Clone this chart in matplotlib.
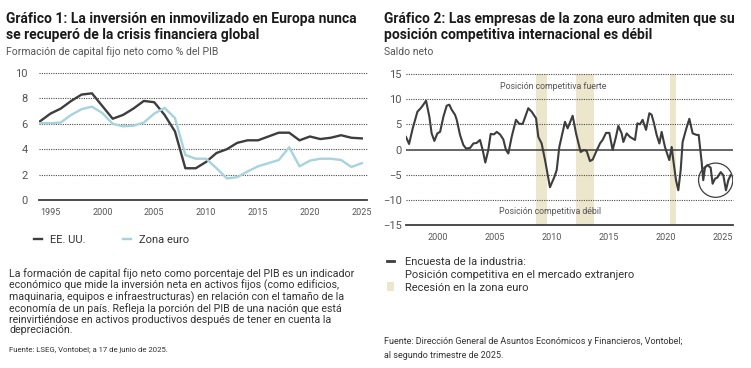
import matplotlib.pyplot as plt
from matplotlib.lines import Line2D
from matplotlib.patches import Patch, Ellipse

plt.rcParams['font.family'] = ['Roboto', 'DejaVu Sans']

# --- Chart 1 data: net fixed capital formation, % of GDP ---
years_1 = list(range(1994, 2026))
us_vals = [6.2, 6.8, 7.2, 7.8, 8.3, 8.4, 7.4, 6.4, 6.7, 7.2, 7.8, 7.7, 6.7, 5.4,
           2.5, 2.5, 3.0, 3.7, 4.0, 4.5, 4.7, 4.7, 5.0, 5.3, 5.3, 4.7, 5.0, 4.8,
           4.9, 5.1, 4.9, 4.85]
ez_vals = [6.05, 6.05, 6.1, 6.7, 7.15, 7.35, 6.85, 6.0, 5.8, 5.85, 6.1, 6.8, 7.25,
           6.45, 3.55, 3.25, 3.25, 2.5, 1.7, 1.8, 2.25, 2.65, 2.9, 3.15, 4.15,
           2.65, 3.1, 3.25, 3.25, 3.15, 2.6, 2.9]

# --- Chart 2 data: industry survey, competitive position abroad (net balance) ---
dates_2 = [1997.19, 1997.46, 1997.78, 1998.19, 1998.48, 1998.71, 1998.95, 1999.24,
           1999.44, 1999.68, 1999.94, 2000.18, 2000.47, 2000.76, 2000.99, 2001.20,
           2001.49, 2001.64, 2001.93, 2002.22, 2002.46, 2002.81, 2003.10, 2003.39,
           2003.68, 2003.92, 2004.15, 2004.41, 2004.62, 2004.91, 2005.15, 2005.44,
           2005.73, 2005.96, 2006.17, 2006.46, 2006.84, 2007.13, 2007.43, 2007.92,
           2008.22, 2008.60, 2008.80, 2009.09, 2009.39, 2009.82, 2010.20, 2010.41,
           2010.64, 2011.14, 2011.37, 2011.81, 2012.11, 2012.51, 2012.81, 2013.04,
           2013.33, 2013.57, 2013.86, 2014.21, 2014.44, 2014.74, 2015.03, 2015.32,
           2015.61, 2015.82, 2016.11, 2016.26, 2016.55, 2016.84, 2017.28, 2017.49,
           2017.72, 2017.95, 2018.25, 2018.54, 2018.74, 2018.95, 2019.18, 2019.42,
           2019.62, 2019.91, 2020.29, 2020.50, 2020.64, 2020.88, 2021.08, 2021.29,
           2021.46, 2021.75, 2022.05, 2022.34, 2022.69, 2022.87, 2023.13, 2023.27,
           2023.42, 2023.63, 2023.92, 2024.09, 2024.30, 2024.50, 2024.80, 2025.03,
           2025.26, 2025.47, 2025.67]
survey_vals = [2.5, 1.1, 4.2, 7.5, 8.2, 8.9, 9.7, 6.5, 3.2, 1.7, 3.2, 3.5, 6.5, 8.7,
               8.9, 7.9, 6.9, 5.9, 2.9, 0.9, 0.2, 0.3, 1.2, 1.3, 1.9, -0.1, -2.6,
               -0.1, 3.1, 3.0, 3.5, 3.0, 2.0, -0.1, -0.8, 2.5, 5.9, 5.1, 5.1, 8.2,
               7.5, 6.2, 2.5, 1.2, -2.1, -7.5, -5.5, -4.1, 0.5, 5.5, 4.2, 6.7, 3.2,
               -0.5, -0.1, -0.3, -2.3, -2.0, -0.5, 1.2, 1.9, 3.3, 3.3, -0.1, 2.5, 4.7,
               3.2, 1.5, 3.2, 2.5, 1.9, 5.2, 5.0, 5.9, 3.9, 7.2, 6.9, 5.2, 2.9, 1.2,
               3.5, 0.5, -2.1, 0.5, -2.1, -6.1, -8.1, -4.1, 1.5, 3.9, 6.1, 3.2, 2.9,
               2.9, -2.5, -6.1, -3.6, -3.1, -3.6, -6.8, -5.8, -5.6, -4.5, -5.1, -8.1,
               -6.1, -5.1]
recessions = [(2008.6, 2009.6), (2012.1, 2013.7), (2020.35, 2020.85)]

DARK = '#3d3d3d'
BLUE = '#a6d3dc'
BEIGE = '#ece6cc'
GRID = '#4d4d4d'
TXT = '#1a1a1a'
SUB = '#555555'

fig = plt.figure(figsize=(7.51, 3.68), dpi=100)

# ---------------- Chart 1 ----------------
ax1 = fig.add_axes([39 / 751, 1 - 200 / 368, 328 / 751, 127 / 368])
ax1.plot(years_1, us_vals, color=DARK, lw=1.7, label='EE. UU.', zorder=3)
ax1.plot(years_1, ez_vals, color=BLUE, lw=1.7, label='Zona euro', zorder=3)
ax1.set_xlim(1993.9, 2025.5)
ax1.set_ylim(0, 10)
ax1.set_yticks([0, 2, 4, 6, 8, 10])
ax1.set_xticks([1995, 2000, 2005, 2010, 2015, 2020, 2025])
for v in [2, 4, 6, 8, 10]:
    ax1.axhline(v, color=GRID, lw=0.8, ls=(0, (1, 1.1)), zorder=1, clip_on=False)
ax1.axhline(0, color=DARK, lw=1.3, zorder=2, clip_on=False)
for s in ax1.spines.values():
    s.set_visible(False)
ax1.tick_params(axis='y', length=0, labelsize=8, labelcolor=SUB, pad=8)
ax1.tick_params(axis='x', length=0, labelsize=6.5, labelcolor=SUB, pad=6)
ax1.legend(loc='lower left', bbox_to_anchor=(-0.045, -0.43), ncol=2, frameon=False,
           handlelength=0.7, handletextpad=0.7, columnspacing=3.4, fontsize=8,
           labelcolor='#333333')

fig.text(6 / 751, 1 - 19 / 368, 'Gráfico 1: La inversión en inmovilizado en Europa nunca',
         fontsize=10, fontweight='bold', color=TXT, va='center')
fig.text(6 / 751, 1 - 35 / 368, 'se recuperó de la crisis financiera global',
         fontsize=10, fontweight='bold', color=TXT, va='center')
fig.text(6 / 751, 1 - 52 / 368, 'Formación de capital fijo neto como % del PIB',
         fontsize=7.5, color=SUB, va='center')

paragraph = ('La formación de capital fijo neto como porcentaje del PIB es un indicador\n'
             'económico que mide la inversión neta en activos fijos (como edificios,\n'
             'maquinaria, equipos e infraestructuras) en relación con el tamaño de la\n'
             'economía de un país. Refleja la porción del PIB de una nación que está\n'
             'reinvirtiéndose en activos productivos después de tener en cuenta la\n'
             'depreciación.')
fig.text(9 / 751, 1 - 268 / 368, paragraph, fontsize=7.7, color='#333333', va='top',
         linespacing=1.06)
fig.text(9 / 751, 1 - 350 / 368, 'Fuente: LSEG, Vontobel; a 17 de junio de 2025.',
         fontsize=5.6, color='#333333', va='center')

# ---------------- Chart 2 ----------------
ax2 = fig.add_axes([406 / 751, 1 - 225 / 368, 327 / 751, 151 / 368])
for start, end in recessions:
    ax2.axvspan(start, end, color=BEIGE, lw=0, zorder=0)
ax2.plot(dates_2, survey_vals, color=DARK, lw=1.5, zorder=3)
ax2.set_xlim(1997.19, 2025.88)
ax2.set_ylim(-15, 15)
ax2.set_yticks([-15, -10, -5, 0, 5, 10, 15])
ax2.set_xticks([2000, 2005, 2010, 2015, 2020, 2025])
for v in [-10, -5, 5, 10, 15]:
    ax2.axhline(v, color=GRID, lw=0.8, ls=(0, (1, 1.1)), zorder=1, clip_on=False)
ax2.axhline(0, color=DARK, lw=1.1, zorder=2)
ax2.axhline(-15, color=DARK, lw=1.3, zorder=2, clip_on=False)
for s in ax2.spines.values():
    s.set_visible(False)
ax2.tick_params(axis='y', length=0, labelsize=8, labelcolor=SUB, pad=3)
ax2.tick_params(axis='x', length=0, labelsize=6.5, labelcolor=SUB, pad=6)
ax2.text(2010.1, 12.5, 'Posición competitiva fuerte', fontsize=6.3, color=SUB,
         ha='center', va='center')
ax2.text(2009.8, -12.3, 'Posición competitiva débil', fontsize=6.3, color=SUB,
         ha='center', va='center')
ax2.add_patch(Ellipse((2024.36, -6.1), 3.0, 6.8, fill=False, edgecolor=DARK, lw=0.9,
                      zorder=4))

handles = [Line2D([], [], color=DARK, lw=2),
           Line2D([], [], color='none'),
           Patch(facecolor=BEIGE, edgecolor='none')]
labels = ['Encuesta de la industria:',
          'Posición competitiva en el mercado extranjero',
          'Recesión en la zona euro']
ax2.legend(handles, labels, loc='upper left', bbox_to_anchor=(-0.09, -0.145),
           frameon=False, handlelength=0.7, handleheight=0.9, handletextpad=1.0,
           labelspacing=0.2, fontsize=8, labelcolor='#333333')

fig.text(384 / 751, 1 - 19 / 368, 'Gráfico 2: Las empresas de la zona euro admiten que su',
         fontsize=10, fontweight='bold', color=TXT, va='center')
fig.text(384 / 751, 1 - 35 / 368, 'posición competitiva internacional es débil',
         fontsize=10, fontweight='bold', color=TXT, va='center')
fig.text(384 / 751, 1 - 52 / 368, 'Saldo neto', fontsize=7.5, color=SUB, va='center')
fig.text(384 / 751, 1 - 342 / 368,
         'Fuente: Dirección General de Asuntos Económicos y Financieros, Vontobel;',
         fontsize=6.5, color='#333333', va='center')
fig.text(384 / 751, 1 - 355 / 368, 'al segundo trimestre de 2025.',
         fontsize=6.5, color='#333333', va='center')

fig.savefig('out.png', dpi=100, facecolor='white')
